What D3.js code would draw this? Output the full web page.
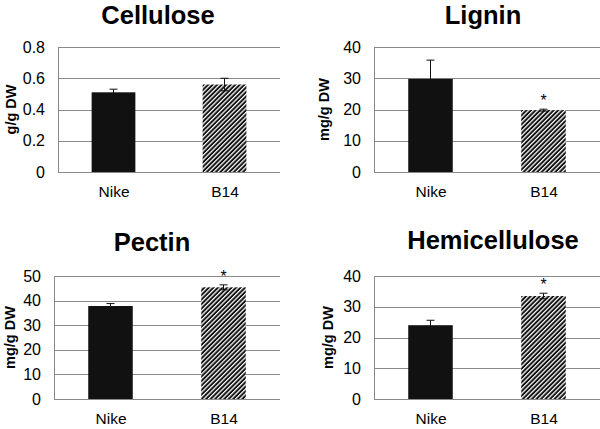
<!DOCTYPE html>
<html><head><meta charset="utf-8">
<script src="https://cdn.jsdelivr.net/npm/d3@7"></script>
<style>
html,body{margin:0;padding:0;background:#fff;}
svg{display:block;font-family:"Liberation Sans",Arial,Helvetica,sans-serif;}
</style></head>
<body>
<svg id="chart" width="600" height="429"></svg>
<script>
// ---- data ----
const categories = ["Nike", "B14"];
const titles = ["Cellulose", "Lignin", "Pectin", "Hemicellulose"];
const yLabels = ["g/g DW", "mg/g DW", "mg/g DW", "mg/g DW"];
const celluloseValues = [0.51, 0.56];
const celluloseErrors = [0.02, 0.04];
const ligninValues = [29.8, 19.8];
const ligninErrors = [6.0, 0.3];
const pectinValues = [37.8, 45.4];
const pectinErrors = [1.0, 1.0];
const hemicelluloseValues = [24.0, 33.5];
const hemicelluloseErrors = [1.6, 0.9];
const celluloseTicks = [0, 0.2, 0.4, 0.6, 0.8];
const ligninTicks = [0, 10, 20, 30, 40];
const pectinTicks = [0, 10, 20, 30, 40, 50];
const hemicelluloseTicks = [0, 10, 20, 30, 40];
const celluloseSignif = [false, false];
const ligninSignif = [false, true];
const pectinSignif = [false, true];
const hemicelluloseSignif = [false, true];

// ---- layout ----
const panels = [
  {title: titles[0], yl: yLabels[0], values: celluloseValues, errors: celluloseErrors, ticks: celluloseTicks, sig: celluloseSignif, fmt: d3.format(".1f"),
   left: 58, right: 280, top: 47, bottom: 172, titleX: 158, titleY: 24, ylX: 16},
  {title: titles[1], yl: yLabels[1], values: ligninValues, errors: ligninErrors, ticks: ligninTicks, sig: ligninSignif, fmt: d3.format("d"),
   left: 374, right: 600, top: 47, bottom: 172, titleX: 483, titleY: 24, ylX: 329},
  {title: titles[2], yl: yLabels[2], values: pectinValues, errors: pectinErrors, ticks: pectinTicks, sig: pectinSignif, fmt: d3.format("d"),
   left: 54, right: 280, top: 276, bottom: 399, titleX: 152, titleY: 251, ylX: 15},
  {title: titles[3], yl: yLabels[3], values: hemicelluloseValues, errors: hemicelluloseErrors, ticks: hemicelluloseTicks, sig: hemicelluloseSignif, fmt: d3.format("d"),
   left: 374, right: 600, top: 276, bottom: 399, titleX: 493, titleY: 249, ylX: 333}
];

const svg = d3.select("#chart");
const defs = svg.append("defs");
const pat = defs.append("pattern").attr("id", "hatch")
  .attr("patternUnits", "userSpaceOnUse").attr("width", 3.2).attr("height", 3.2)
  .attr("patternTransform", "rotate(45)");
pat.append("rect").attr("width", 3.2).attr("height", 3.2).attr("fill", "#111");
pat.append("rect").attr("x", 0).attr("y", 0).attr("width", 1.25).attr("height", 3.2).attr("fill", "#fff");

const gridColor = "#8a8a8a";

panels.forEach(p => {
  const g = svg.append("g");
  const yMax = p.ticks[p.ticks.length - 1];
  const y = d3.scaleLinear().domain([0, yMax]).range([p.bottom, p.top]);
  const x = d3.scalePoint().domain(categories).range([p.left, p.right]).padding(0.5);
  const barW = (p.right - p.left) * 0.197;

  // title
  g.append("text").attr("x", p.titleX).attr("y", p.titleY)
    .attr("text-anchor", "middle").attr("font-size", 25.5).attr("font-weight", "bold")
    .attr("fill", "#000").text(p.title);

  // grid
  g.selectAll(".grid").data(p.ticks).join("line")
    .attr("x1", p.left).attr("x2", p.right)
    .attr("y1", d => Math.round(y(d)) + 0.5).attr("y2", d => Math.round(y(d)) + 0.5)
    .attr("stroke", gridColor).attr("stroke-width", 1);
  // left axis line
  g.append("line").attr("x1", p.left + 0.5).attr("x2", p.left + 0.5)
    .attr("y1", p.top).attr("y2", p.bottom + 1)
    .attr("stroke", gridColor).attr("stroke-width", 1);

  // y axis tick labels via d3 axis
  const ax = g.append("g").attr("transform", `translate(${p.left},0)`)
    .call(d3.axisLeft(y).tickValues(p.ticks).tickFormat(d => d === 0 ? "0" : p.fmt(d)).tickSize(0).tickPadding(13));
  ax.select(".domain").remove();
  ax.selectAll("text").attr("font-size", 16).attr("fill", "#000")
    .attr("font-family", "Liberation Sans, Arial, sans-serif");

  // x axis labels via d3 axis
  const axx = g.append("g").attr("transform", `translate(0,${p.bottom})`)
    .call(d3.axisBottom(x).tickSize(0).tickPadding(14));
  axx.select(".domain").remove();
  axx.selectAll("text").attr("font-size", 15.5).attr("fill", "#000")
    .attr("font-family", "Liberation Sans, Arial, sans-serif");

  // y label
  g.append("text")
    .attr("transform", `translate(${p.ylX},${(p.top + p.bottom) / 2}) rotate(-90)`)
    .attr("text-anchor", "middle").attr("font-size", 14.5).attr("font-weight", "bold")
    .attr("fill", "#000").text(p.yl);

  const data = categories.map((c, i) => ({c, v: p.values[i], e: p.errors[i], s: p.sig[i], i}));

  // bars
  g.selectAll(".bar").data(data).join("rect")
    .attr("x", d => x(d.c) - barW / 2).attr("width", barW)
    .attr("y", d => y(d.v)).attr("height", d => y(0) - y(d.v))
    .attr("fill", d => d.i === 0 ? "#111" : "url(#hatch)");

  // error bars
  data.forEach(d => {
    const cx = x(d.c);
    const top = y(d.v + d.e), bot = y(d.v - d.e);
    g.append("line").attr("x1", cx).attr("x2", cx).attr("y1", top).attr("y2", bot)
      .attr("stroke", "#111").attr("stroke-width", 1);
    [top, bot].forEach(yy => g.append("line")
      .attr("x1", cx - 4).attr("x2", cx + 4).attr("y1", yy).attr("y2", yy)
      .attr("stroke", "#111").attr("stroke-width", 1));
    if (d.s) {
      g.append("text").attr("x", cx).attr("y", top - 3)
        .attr("text-anchor", "middle").attr("font-size", 16).attr("fill", "#000").text("*");
    }
  });
});
</script>
</body></html>
